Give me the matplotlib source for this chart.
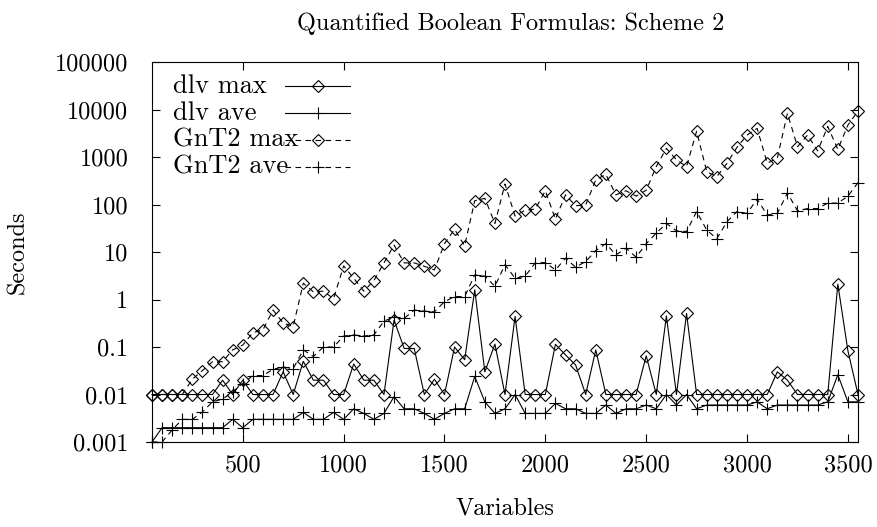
import numpy as np
import matplotlib
matplotlib.use('Agg')
import matplotlib.pyplot as plt
from matplotlib.ticker import FixedLocator, NullLocator, LogLocator, NullFormatter

# number of variables (x axis)
variables = [50, 100, 150, 200, 250, 300, 350, 400, 450, 500,
             550, 600, 650, 700, 750, 800, 850, 900, 950, 1000,
             1050, 1100, 1150, 1200, 1250, 1300, 1350, 1400, 1450, 1500,
             1550, 1600, 1650, 1700, 1750, 1800, 1850, 1900, 1950, 2000,
             2050, 2100, 2150, 2200, 2250, 2300, 2350, 2400, 2450, 2500,
             2550, 2600, 2650, 2700, 2750, 2800, 2850, 2900, 2950, 3000,
             3050, 3100, 3150, 3200, 3250, 3300, 3350, 3400, 3450, 3500,
             3550]

dlv_max = [0.01, 0.01, 0.01, 0.01, 0.01, 0.01, 0.01, 0.02, 0.01, 0.02,
           0.01, 0.01, 0.01, 0.03, 0.01, 0.05, 0.02, 0.02, 0.01, 0.01,
           0.044, 0.02, 0.02, 0.01, 0.37, 0.093, 0.093, 0.01, 0.021, 0.01,
           0.1, 0.054, 1.6, 0.03, 0.115, 0.01, 0.44, 0.01, 0.01, 0.01,
           0.114, 0.068, 0.042, 0.01, 0.087, 0.01, 0.01, 0.01, 0.01, 0.065,
           0.01, 0.45, 0.01, 0.51, 0.01, 0.01, 0.01, 0.01, 0.01, 0.01,
           0.01, 0.01, 0.03, 0.02, 0.01, 0.01, 0.01, 0.01, 2.1, 0.083,
           0.01]

dlv_ave = [0.001, 0.002, 0.002, 0.002, 0.002, 0.002, 0.002, 0.002, 0.003, 0.002,
           0.003, 0.003, 0.003, 0.003, 0.003, 0.0042, 0.003, 0.003, 0.0042, 0.003,
           0.005, 0.004, 0.003, 0.004, 0.009, 0.005, 0.005, 0.004, 0.003, 0.004,
           0.005, 0.005, 0.024, 0.007, 0.004, 0.005, 0.01, 0.004, 0.004, 0.004,
           0.0065, 0.005, 0.005, 0.004, 0.004, 0.006, 0.004, 0.005, 0.005, 0.006,
           0.005, 0.01, 0.006, 0.01, 0.005, 0.006, 0.006, 0.006, 0.006, 0.006,
           0.007, 0.005, 0.006, 0.006, 0.006, 0.006, 0.006, 0.007, 0.026, 0.007,
           0.007]

gnt2_max = [0.01, 0.01, 0.01, 0.01, 0.021, 0.032, 0.049, 0.049, 0.087, 0.11,
            0.2, 0.23, 0.6, 0.32, 0.27, 2.2, 1.45, 1.5, 1.04, 5.1,
            2.8, 1.5, 2.5, 5.9, 14, 5.9, 5.9, 5, 4.2, 15,
            30, 13.5, 120, 135, 40, 270, 57, 76, 80, 195,
            49, 160, 94, 98, 330, 430, 160, 195, 150, 200,
            630, 1520, 870, 630, 3500, 490, 385, 730, 1600, 2900,
            4000, 740, 940, 8300, 1650, 2900, 1340, 4400, 1450, 4700,
            9300]

gnt2_ave = [0.001, 0.001, 0.0018, 0.003, 0.003, 0.0043, 0.007, 0.008, 0.0115, 0.017,
            0.025, 0.025, 0.034, 0.038, 0.035, 0.087, 0.063, 0.1, 0.1, 0.17,
            0.18, 0.17, 0.18, 0.35, 0.43, 0.4, 0.6, 0.57, 0.55, 0.9,
            1.15, 1.15, 3.3, 3.1, 1.9, 5.4, 2.8, 3.1, 5.9, 6,
            4.2, 7.4, 4.8, 6.3, 10.7, 15, 8.7, 12, 7.8, 15,
            25, 40, 28, 27, 71, 29, 19, 43, 71, 65,
            130, 60, 65, 175, 74, 82, 82, 107, 107, 150,
            290]

series_names = ['dlv max', 'dlv ave', 'GnT2 max', 'GnT2 ave']

xtick_vals = [500, 1000, 1500, 2000, 2500, 3000, 3500]
ytick_vals = [0.001, 0.01, 0.1, 1, 10, 100, 1000, 10000, 100000]
ytick_labels = ['0.001', '0.01', '0.1', '1', '10', '100', '1000', '10000', '100000']

plt.rcParams['font.family'] = ['cmr10', 'DejaVu Serif']
plt.rcParams['mathtext.fontset'] = 'cm'
plt.rcParams['axes.formatter.use_mathtext'] = True

fs = 17.5
lw = 0.8
dash = (0, (5, 4))

fig = plt.figure(figsize=(8.78, 5.27), dpi=100)
ax = fig.add_axes([152/878, 1 - 442/527, 706/878, 380/527])

# gnuplot style key: text on the left, sample line with a point on the right
key_rows = [0.937, 0.866, 0.795, 0.724]
key_text_x = 0.030
key_line_x = [0.188, 0.281]
key_mark_x = 0.235

series = [(dlv_max, '-', 'D'), (dlv_ave, '-', '+'),
          (gnt2_max, dash, 'D'), (gnt2_ave, dash, '+')]

for i, (vals, ls, mk) in enumerate(series):
    line_style = dict(color='k', lw=lw, ls=ls)
    if mk == 'D':
        mark_style = dict(marker='D', ms=6.2, mfc='none', mec='k', mew=0.8)
    else:
        mark_style = dict(marker='+', ms=9, mec='k', mew=0.8)
    ax.plot(variables, vals, clip_on=False, **line_style, **mark_style)

    y = key_rows[i]
    ax.text(key_text_x, y, series_names[i], transform=ax.transAxes,
            ha='left', va='center', fontsize=19)
    ax.plot(key_line_x, [y, y], transform=ax.transAxes, **line_style)
    ax.plot([key_mark_x], [y], transform=ax.transAxes, ls='none', **mark_style)

ax.set_yscale('log')
ax.set_ylim(0.001, 100000)
ax.set_xlim(50, 3550)

ax.yaxis.set_major_locator(FixedLocator(ytick_vals))
ax.set_yticklabels(ytick_labels)
ax.yaxis.set_minor_locator(LogLocator(base=10, subs=[2, 5]))
ax.yaxis.set_minor_formatter(NullFormatter())
ax.xaxis.set_major_locator(FixedLocator(xtick_vals))
ax.set_xticklabels([str(v) for v in xtick_vals])
ax.xaxis.set_minor_locator(NullLocator())

ax.tick_params(which='both', direction='in', top=True, right=True, width=0.8)
ax.tick_params(which='major', length=6, labelsize=fs)
ax.tick_params(axis='x', which='major', pad=9)
ax.tick_params(axis='y', which='major', pad=17)
ax.tick_params(which='minor', length=3.5)
for sp in ax.spines.values():
    sp.set_linewidth(0.8)

fig.text(511/878, 1 - 24/527, 'Quantified Boolean Formulas: Scheme 2',
         ha='center', va='center', fontsize=fs)
fig.text(505/878, 1 - 508/527, 'Variables', ha='center', va='center', fontsize=fs)
fig.text(18/878, 1 - 252/527, 'Seconds', ha='center', va='center',
         rotation=90, fontsize=fs)

fig.savefig('out.png', dpi=100)
